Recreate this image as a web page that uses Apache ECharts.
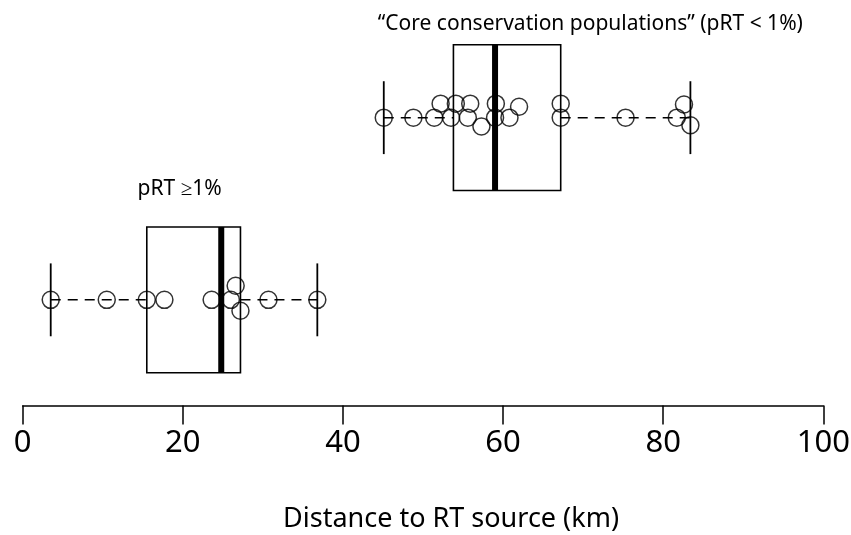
<!DOCTYPE html>
<html>
<head>
<meta charset="utf-8">
<script src="https://cdn.jsdelivr.net/npm/echarts@6/dist/echarts.min.js"></script>
<style>
  html, body { margin: 0; padding: 0; background: #fff; }
  #chart { width: 851px; height: 535px; }
</style>
</head>
<body>
<div id="chart"></div>
<script>
// distances (km), one array per group
var lowDist = [3.5, 10.5, 15.5, 17.7, 23.6, 26.0, 30.7, 36.8, 26.6, 27.2]
var lowJitter = [0, 0, 0, 0, 0, 0, 0, 0, 0.077, -0.06]
var coreDist = [45.1, 48.8, 51.4, 53.5, 55.6, 59.0, 60.8, 67.2, 75.3, 81.7, 52.2, 54.1, 55.9, 59.1, 62.0, 67.2, 82.6, 57.3, 83.4]
var coreJitter = [0, 0, 0, 0, 0, 0, 0, 0, 0, 0, 0.077, 0.077, 0.077, 0.077, 0.06, 0.077, 0.072, -0.048, -0.042]

var groupPos = [1, 2]
var labelText = ['pRT \u22651%', '\u201cCore conservation populations\u201d (pRT < 1%)']
var labelX = [19.6, 70.9]
var labelY = [1.61, 2.515]
var xTicks = [0, 20, 40, 60, 80, 100]

// Tukey hinges, like R's boxplot
function median(a) {
  var n = a.length
  var m = Math.floor(n / 2)
  return n % 2 ? a[m] : (a[m - 1] + a[m]) / 2
}
function fivenum(arr) {
  var s = arr.slice().sort(function (a, b) { return a - b })
  var n = s.length
  var h = Math.floor((n + 1) / 2)
  return [s[0], median(s.slice(0, h)), median(s), median(s.slice(n - h)), s[n - 1]]
}

var boxData = [
  [groupPos[0]].concat(fivenum(lowDist)),
  [groupPos[1]].concat(fivenum(coreDist))
]

var pointData = []
lowDist.forEach(function (v, i) { pointData.push([v, groupPos[0] + lowJitter[i]]) })
coreDist.forEach(function (v, i) { pointData.push([v, groupPos[1] + coreJitter[i]]) })

var labelData = labelText.map(function (t, i) { return [labelX[i], labelY[i], t] })

function renderBox(params, api) {
  var pos = api.value(0)
  var lo = api.value(1), q1 = api.value(2), med = api.value(3), q3 = api.value(4), hi = api.value(5)
  var tl = api.coord([q1, pos + 0.4])
  var br = api.coord([q3, pos - 0.4])
  var mid = api.coord([q1, pos])[1]
  var line = function (x1, y1, x2, y2, w, dash) {
    return {
      type: 'line',
      shape: { x1: x1, y1: y1, x2: x2, y2: y2 },
      style: { stroke: '#000', lineWidth: w, lineDash: dash || null }
    }
  }
  var pLo = api.coord([lo, pos + 0.2])
  var pLo2 = api.coord([lo, pos - 0.2])
  var pHi = api.coord([hi, pos + 0.2])
  var pHi2 = api.coord([hi, pos - 0.2])
  var pMed = api.coord([med, pos])[0]
  return {
    type: 'group',
    children: [
      line(pLo[0], mid, tl[0], mid, 1.5, [10, 7]),
      line(br[0], mid, pHi[0], mid, 1.5, [10, 7]),
      line(pLo[0], pLo[1], pLo2[0], pLo2[1], 1.8),
      line(pHi[0], pHi[1], pHi2[0], pHi2[1], 1.8),
      {
        type: 'rect',
        shape: { x: tl[0], y: tl[1], width: br[0] - tl[0], height: br[1] - tl[1] },
        style: { fill: 'none', stroke: '#000', lineWidth: 1.6 }
      },
      line(pMed, tl[1], pMed, br[1], 6)
    ]
  }
}

function renderLabel(params, api) {
  var p = api.coord([api.value(0), api.value(1)])
  return {
    type: 'text',
    x: p[0],
    y: p[1],
    style: {
      text: labelData[params.dataIndex][2],
      fill: '#000',
      font: '21px "Noto Sans"',
      align: 'center',
      verticalAlign: 'middle'
    }
  }
}

var chart = echarts.init(document.getElementById('chart'), null, { renderer: 'canvas' })
chart.setOption({
  animation: false,
  backgroundColor: '#fff',
  grid: { left: 22.7, right: 27.7, top: 12, bottom: 129.5, outerBoundsMode: 'none' },
  xAxis: {
    type: 'value',
    min: xTicks[0],
    max: xTicks[xTicks.length - 1],
    interval: 20,
    name: 'Distance to RT source (km)',
    nameLocation: 'middle',
    nameGap: 100,
    nameTextStyle: { fontFamily: 'Noto Sans', fontSize: 27, color: '#000', padding: [0, 0, 0, 56] },
    axisLine: { show: true, lineStyle: { color: '#000', width: 1.5 } },
    axisTick: { show: true, length: 19, lineStyle: { color: '#000', width: 1.5 } },
    axisLabel: { fontFamily: 'Noto Sans', fontSize: 31, color: '#000', margin: 22 },
    splitLine: { show: false }
  },
  yAxis: {
    type: 'value',
    min: 0.42,
    max: 2.58,
    show: false
  },
  series: [
    {
      type: 'custom',
      renderItem: renderBox,
      data: boxData,
      encode: { x: [1, 2, 3, 4, 5], y: 0 }
    },
    {
      type: 'scatter',
      data: pointData,
      symbol: 'circle',
      symbolSize: 17,
      itemStyle: { color: 'rgba(0,0,0,0)', borderColor: '#000', borderWidth: 1.5 },
      z: 5
    },
    {
      type: 'custom',
      renderItem: renderLabel,
      data: labelData.map(function (d) { return [d[0], d[1]] }),
      clip: false,
      z: 6
    }
  ]
})
</script>
</body>
</html>
